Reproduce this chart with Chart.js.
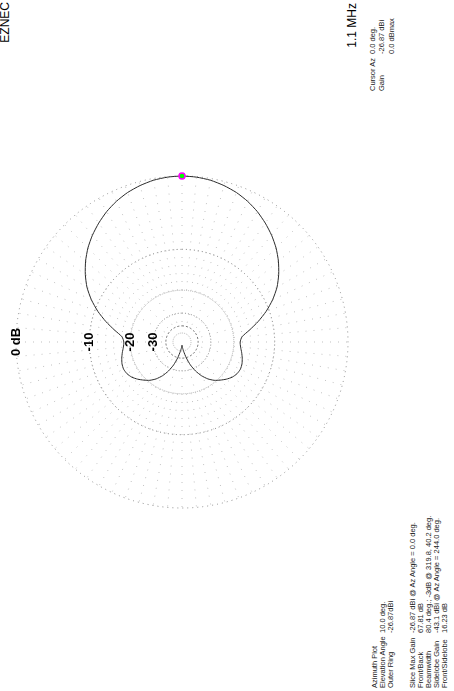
<!DOCTYPE html>
<html><head><meta charset="utf-8">
<script src="https://cdn.jsdelivr.net/npm/chart.js@4.4.1/dist/chart.umd.min.js"></script>
<style>
html,body{margin:0;padding:0;background:#fff;width:454px;height:691px;overflow:hidden;}
#land{position:absolute;left:0;top:0;width:691px;height:454px;transform-origin:0 0;transform:translate(0px,691px) rotate(-90deg);background:#fff;font-family:'Liberation Sans',Arial,sans-serif;color:#000;}
#plot{position:absolute;left:176px;top:9px;width:346px;height:346px;}
.t{position:absolute;white-space:pre;color:#222;}
</style></head><body>
<div id="land">
  <div id="plot"><canvas id="c" width="346" height="346"></canvas></div>
</div>
<script>
// ---- data ----
const azimuthDeg = [0,5,10,15,20,25,30,35,40,45,50,55,60,65,70,75,80,85,90,95,100,105,110,115,120,125,130,135,140,145,150,155,160,165,170,175,
  180,185,190,195,200,205,210,215,220,225,230,235,240,245,250,255,260,265,270,275,280,285,290,295,300,305,310,315,320,325,330,335,340,345,350,355];
const gainDb = [0,-0.05,-0.18,-0.42,-0.73,-1.15,-1.67,-2.3,-3.0,-3.8,-4.75,-5.85,-7.1,-8.7,-10.6,-12.8,-15.2,-17.4,-18.0,-17.8,-17.3,-16.8,-16.4,-16.25,-16.5,-17.1,-18.1,-19.3,-20.6,-22.4,-24.9,-28.3,-33.0,-40.0,-49.0,-58.0,
  -68.0,-58.0,-49.0,-40.0,-33.0,-28.3,-24.9,-22.4,-20.6,-19.3,-18.1,-17.1,-16.5,-16.25,-16.4,-16.8,-17.3,-17.8,-18.0,-17.4,-15.2,-12.8,-10.6,-8.7,-7.1,-5.85,-4.75,-3.8,-3.0,-2.3,-1.67,-1.15,-0.73,-0.42,-0.18,-0.05];
const cursorAz = [0];
const cursorDb = [0];
const ringDb = [-50,-40,-30,-20,-10,0];
const ringLabels = ['','','-30','-20','-10','0 dB'];
const programName = 'EZNEC';
const freqText = '1.1 MHz';
const cursorLabels = ['Cursor Az','Gain',''];
const cursorValues = ['0.0 deg.','-26.87 dBi','0.0 dBmax'];
const plotLabels = ['Azimuth Plot','Elevation Angle','Outer Ring'];
const plotValues = ['','10.0 deg.','-26.87dBi'];
const statLabels = ['Slice Max Gain','Front/Back','Beamwidth','Sidelobe Gain','Front/Sidelobe'];
const statValues = ['-26.87 dBi @ Az Angle = 0.0 deg.','67.81 dB','80.4 deg.; -3dB @ 319.8, 40.2 deg.','-43.1 dBi @ Az Angle = 244.0 deg.','16.23 dB'];

// ---- ARRL log-periodic radial scale (0.89 per 2 dB) ----
const arrl = db => Math.pow(0.89, -db / 2);
const STEP = 5;
const nSpokes = 360 / STEP;
// radar index i runs clockwise from the top; azimuth runs counter-clockwise from the right
const azOfIndex = i => ((90 - STEP * i) % 360 + 360) % 360;
const labels = [], patternR = [], cursorR = [];
for (let i = 0; i < nSpokes; i++) {
  const az = azOfIndex(i);
  labels.push(az + '°');
  const k = azimuthDeg.indexOf(az);
  patternR.push(k >= 0 ? arrl(gainDb[k]) : null);
  const c = cursorAz.indexOf(az);
  cursorR.push(c >= 0 ? arrl(cursorDb[c]) : null);
}
const ringValues = [0].concat(ringDb.map(arrl));
const ringText = [''].concat(ringLabels);
const ringColor = ['#000','#b4b4b4','#6e6e6e','#808080','#b0b0b0','#707070','#8a8a8a'];
const ringDash  = [[], [1,1], [2,2], [1,2], [1,1], [1,3], [1,4]];
// spoke dot patterns: main spokes (every 15 deg) start near the centre, the others further out
function spokeDash(start) {
  const d = [0, start];
  for (let k = 0; k < 24; k++) d.push(1, 7);
  return d;
}
const dashMain = spokeDash(20), dashMinor = spokeDash(52);

new Chart(document.getElementById('c'), {
  type: 'radar',
  data: {
    labels: labels,
    datasets: [
      { data: patternR, borderColor: '#2a2a2a', borderWidth: 1, pointRadius: 0, fill: false, tension: 0.2, order: 2 },
      { data: cursorR, showLine: false, pointRadius: 3, pointHoverRadius: 3, pointBackgroundColor: '#00ff00', pointBorderColor: '#ff00ff', pointBorderWidth: 1.5, fill: false, order: 1 }
    ]
  },
  options: {
    responsive: false, animation: false, events: [],
    layout: { padding: 0 },
    plugins: { legend: { display: false }, tooltip: { enabled: false } },
    scales: {
      r: {
        min: 0, max: 1, startAngle: 0,
        afterBuildTicks: s => { s.ticks = ringValues.map(v => ({ value: v })); },
        ticks: {
          display: true, showLabelBackdrop: false, backdropPadding: 0, color: '#000',
          font: { family: "'Liberation Sans', Arial, sans-serif", size: 13, weight: 'bold' },
          callback: (v) => { const k = ringValues.indexOf(v); return k >= 0 ? ringText[k] : ''; }
        },
        grid: { circular: true, lineWidth: 1, color: ctx => ringColor[ctx.index] || '#888' },
        border: { dash: ctx => ringDash[ctx.index] || [1,3] },
        angleLines: { display: true, color: '#c0c0c0', lineWidth: 1,
          borderDash: ctx => (ctx.index % 3 === 0 ? dashMain : dashMinor), borderDashOffset: 0 },
        pointLabels: { display: false }
      }
    }
  }
});

// ---- text annotations (landscape coordinates, page rotated) ----
const land = document.getElementById('land');
function put(text, x, yc, opts) {
  opts = opts || {};
  const d = document.createElement('div');
  d.className = 't';
  d.textContent = text;
  const fs = opts.size || 7.5, lh = Math.round(fs * 1.15);
  d.style.fontSize = fs + 'px'; d.style.lineHeight = lh + 'px'; d.style.height = lh + 'px';
  d.style.top = (yc - lh / 2) + 'px';
  if (opts.right) { d.style.right = (691 - x) + 'px'; } else { d.style.left = x + 'px'; }
  if (opts.color) d.style.color = opts.color;
  land.appendChild(d);
}
put(programName, 689, 5, { size: 12, right: true, color: '#000' });
put(freqText, 688, 352, { size: 12, right: true, color: '#000' });
cursorLabels.forEach((t, i) => { if (t) put(t, 600, 372 + i * 9.5); });
cursorValues.forEach((t, i) => put(t, 637, 372 + i * 9.5));
plotLabels.forEach((t, i) => put(t, 3, 374 + i * 8));
plotValues.forEach((t, i) => { if (t) put(t, 58, 374 + i * 8); });
statLabels.forEach((t, i) => put(t, 3, 412 + i * 8));
statValues.forEach((t, i) => put(t, 58, 412 + i * 8));
</script>
</body></html>
